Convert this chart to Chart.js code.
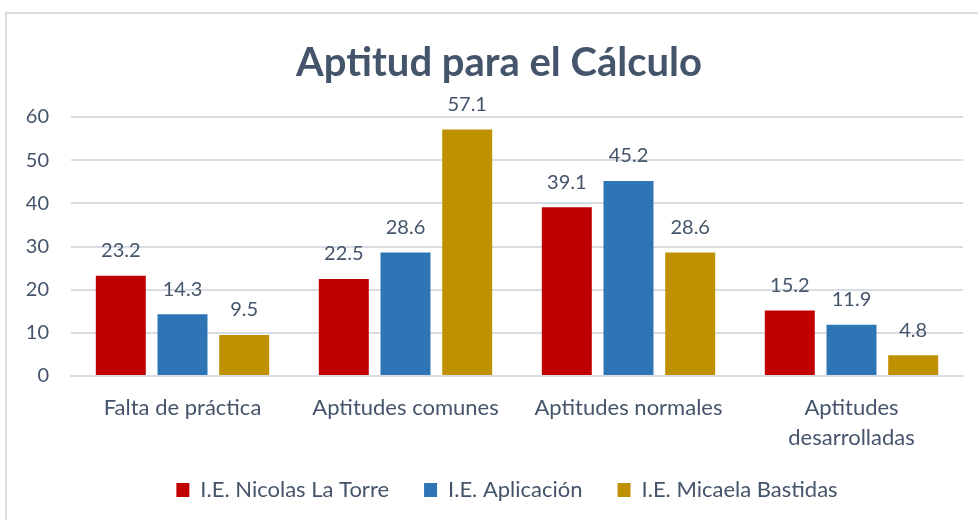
<!DOCTYPE html>
<html>
<head>
<meta charset="utf-8">
<script src="https://cdn.jsdelivr.net/npm/chart.js@4"></script>
<style>
  html, body { margin: 0; padding: 0; background: #fff; overflow: hidden; }
  #frame {
    position: absolute; left: 5px; top: 12px;
    width: 990px; height: 520px;
    border: 2px solid #D9DDE3;
  }
  #box { width: 971px; height: 506px; }
</style>
</head>
<body>
<div id="frame"><div id="box"><canvas id="barChart"></canvas></div></div>
<script>
const categories = ["Falta de práctica", "Aptitudes comunes", "Aptitudes normales", ["Aptitudes", "desarrolladas"]];
const nicolasLaTorre = [23.2, 22.5, 39.1, 15.2];
const aplicacion = [14.3, 28.6, 45.2, 11.9];
const micaelaBastidas = [9.5, 57.1, 28.6, 4.8];
const yTicks = [0, 10, 20, 30, 40, 50, 60];

const textColor = "#44546A";
const fontFamily = "Lato, 'Open Sans', sans-serif";

// etiquetas de valor encima de cada barra
const valueLabels = {
    id: "valueLabels",
    afterDatasetsDraw(chart) {
        const ctx = chart.ctx;
        ctx.save();
        ctx.font = "20px " + fontFamily;
        ctx.fillStyle = textColor;
        ctx.textAlign = "center";
        ctx.textBaseline = "middle";
        chart.data.datasets.forEach((ds, i) => {
            chart.getDatasetMeta(i).data.forEach((bar, j) => {
                ctx.fillText(ds.data[j].toFixed(1), bar.x, bar.y - 25);
            });
        });
        ctx.restore();
    }
};

// mover titulo y leyenda como en el original
const nudge = {
    id: "nudge",
    afterLayout(chart) {
        const t = chart.titleBlock;
        t.left += 14; t.right += 14;
        const l = chart.legend;
        l.left += 22; l.right += 22;
        l.top -= 9; l.bottom -= 9;
    }
};

new Chart(document.getElementById("barChart"), {
    type: "bar",
    data: {
        labels: categories,
        datasets: [
            { label: "I.E. Nicolas La Torre", data: nicolasLaTorre, backgroundColor: "#C00000" },
            { label: "I.E. Aplicación", data: aplicacion, backgroundColor: "#2E75B6" },
            { label: "I.E. Micaela Bastidas", data: micaelaBastidas, backgroundColor: "#BF9000" }
        ]
    },
    options: {
        responsive: true,
        maintainAspectRatio: false,
        animation: false,
        datasets: { bar: { categoryPercentage: 0.83, barPercentage: 0.81 } },
        layout: { padding: { left: 0, right: 15, top: 0, bottom: 0 } },
        plugins: {
            title: {
                display: true,
                text: "Aptitud para el Cálculo",
                color: textColor,
                font: { family: fontFamily, size: 40, weight: "bold" },
                padding: { top: 25, bottom: 30 }
            },
            legend: {
                position: "bottom",
                maxHeight: 67,
                labels: {
                    color: textColor,
                    font: { family: fontFamily, size: 22 },
                    boxWidth: 13,
                    boxHeight: 14,
                    padding: 35
                }
            },
            tooltip: { enabled: false }
        },
        scales: {
            x: {
                grid: { display: false, drawTicks: false },
                border: { color: "#D9DDE3", width: 2 },
                afterFit: (axis) => { axis.height = 77; },
                ticks: { color: textColor, font: { family: fontFamily, size: 22, lineHeight: "30px" }, padding: 17 }
            },
            y: {
                min: 0,
                max: 60,
                afterBuildTicks: (axis) => { axis.ticks = yTicks.map(v => ({ value: v })); },
                afterFit: (axis) => { axis.width = 64; },
                border: { display: false },
                grid: { color: "#D9DDE3", lineWidth: 2, drawTicks: false },
                ticks: { color: textColor, font: { family: fontFamily, size: 20 }, padding: 22 }
            }
        }
    },
    plugins: [valueLabels, nudge]
});
</script>
</body>
</html>
